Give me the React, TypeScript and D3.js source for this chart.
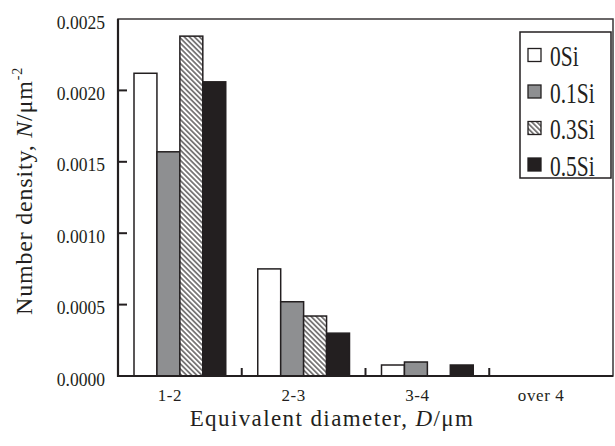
import React, { Component } from "react";
import * as d3 from "d3";

const categories = ["1-2", "2-3", "3-4", "over 4"];
const seriesNames = ["0Si", "0.1Si", "0.3Si", "0.5Si"];
const si0 = [0.00212, 0.00075, 0.000077, 0];
const si01 = [0.00157, 0.00052, 0.000098, 0];
const si03 = [0.00238, 0.00042, 0, 0];
const si05 = [0.00206, 0.0003, 0.000077, 0];
const yTicks = [0, 0.0005, 0.001, 0.0015, 0.002, 0.0025];

const FONT = "Liberation Serif, Times New Roman, serif";
const INK = "#231f20";

class App extends Component {
  graph = React.createRef<SVGSVGElement>();

  componentDidMount() {
    this.drawGraph();
  }

  drawGraph = () => {
    const svg = d3.select(this.graph.current);
    svg.selectAll("*").remove();

    const margin = { top: 19, right: 2, bottom: 70, left: 118 };
    const width = 615 - margin.left - margin.right;
    const height = 446 - margin.top - margin.bottom;
    const seriesValues = [si0, si01, si03, si05];
    const fills = ["#ffffff", "#8e8f91", "url(#hatch)", INK];

    // hatch for 0.3Si
    const pat = svg
      .append("defs")
      .append("pattern")
      .attr("id", "hatch")
      .attr("patternUnits", "userSpaceOnUse")
      .attr("width", 3.6)
      .attr("height", 3.6)
      .attr("patternTransform", "rotate(-45)");
    pat.append("rect").attr("width", 3.6).attr("height", 3.6).attr("fill", "#fff");
    pat
      .append("line")
      .attr("x1", 1.8)
      .attr("x2", 1.8)
      .attr("y1", 0)
      .attr("y2", 3.6)
      .attr("stroke", INK)
      .attr("stroke-width", 1.1);

    const g = svg
      .append("g")
      .attr("transform", "translate(" + margin.left + "," + margin.top + ")");

    const x0 = d3.scaleBand().domain(categories).range([0, width]).padding(0);
    const x1 = d3
      .scaleBand()
      .domain(seriesNames)
      .range([16, x0.bandwidth() - 16])
      .padding(0);
    const y = d3.scaleLinear().domain([0, 0.0025]).range([height, 0]);

    const cells = categories.flatMap((c, i) =>
      seriesNames.map((s, j) => ({ c, s, j, v: seriesValues[j][i] }))
    );

    g.selectAll("rect.bar")
      .data(cells.filter((d) => d.v > 0))
      .enter()
      .append("rect")
      .attr("class", "bar")
      .attr("x", (d) => x0(d.c)! + x1(d.s)!)
      .attr("y", (d) => y(d.v))
      .attr("width", x1.bandwidth())
      .attr("height", (d) => height - y(d.v))
      .attr("fill", (d) => fills[d.j])
      .attr("stroke", INK)
      .attr("stroke-width", 1.5);

    // y ticks, pointing inward
    g.selectAll("line.ytick")
      .data(yTicks.slice(1, -1))
      .enter()
      .append("line")
      .attr("x1", 0)
      .attr("x2", 9)
      .attr("y1", (d) => y(d))
      .attr("y2", (d) => y(d))
      .attr("stroke", INK)
      .attr("stroke-width", 2);

    g.selectAll("text.ylab")
      .data(yTicks)
      .enter()
      .append("text")
      .attr("transform", (d) => "translate(-13," + (y(d) + 9.5) + ") scale(0.9,1)")
      .attr("text-anchor", "end")
      .attr("font-family", FONT)
      .attr("font-size", 19.5)
      .attr("fill", INK)
      .text((d) => d3.format(".4f")(d));

    // x ticks at category boundaries, pointing up
    g.selectAll("line.xtick")
      .data(categories.slice(1))
      .enter()
      .append("line")
      .attr("x1", (d) => x0(d)!)
      .attr("x2", (d) => x0(d)!)
      .attr("y1", height)
      .attr("y2", height - 8)
      .attr("stroke", INK)
      .attr("stroke-width", 2);

    g.selectAll("text.xlab")
      .data(categories)
      .enter()
      .append("text")
      .attr("x", (d) => x0(d)! + x0.bandwidth() / 2 - 10)
      .attr("y", height + 25)
      .attr("text-anchor", "middle")
      .attr("font-family", FONT)
      .attr("font-size", 17)
      .attr("letter-spacing", 0.6)
      .attr("fill", INK)
      .text((d) => d);

    // frame
    g.append("rect")
      .attr("width", width)
      .attr("height", height)
      .attr("fill", "none")
      .attr("stroke", "#3a3637")
      .attr("stroke-width", 1.5);
    g.append("path")
      .attr("d", "M0,0V" + height + "H" + width)
      .attr("fill", "none")
      .attr("stroke", INK)
      .attr("stroke-width", 2.2);

    // legend
    const lg = svg.append("g").attr("transform", "translate(520,32)");
    lg.append("rect")
      .attr("width", 91)
      .attr("height", 146)
      .attr("fill", "#fff")
      .attr("stroke", INK)
      .attr("stroke-width", 1.5);
    const rows = lg
      .selectAll("g.row")
      .data(seriesNames)
      .enter()
      .append("g")
      .attr("transform", (d, i) => "translate(0," + (23 + i * 36.5) + ")");
    rows
      .append("rect")
      .attr("x", 8)
      .attr("y", -6.5)
      .attr("width", 13)
      .attr("height", 13)
      .attr("fill", (d, i) => fills[i])
      .attr("stroke", INK)
      .attr("stroke-width", 1.3);
    rows
      .append("text")
      .attr("transform", "translate(30,11) scale(0.74,1)")
      .attr("font-family", FONT)
      .attr("font-size", 29)
      .attr("fill", INK)
      .text((d) => d);

    // axis titles
    const xt = svg
      .append("text")
      .attr("x", 332)
      .attr("y", 426)
      .attr("text-anchor", "middle")
      .attr("font-family", FONT)
      .attr("font-size", 23)
      .attr("letter-spacing", 1.4)
      .attr("fill", INK);
    xt.append("tspan").text("Equivalent diameter, ");
    xt.append("tspan").attr("font-style", "italic").text("D");
    xt.append("tspan").text("/μm");

    const yt = svg
      .append("text")
      .attr("transform", "translate(32,191) rotate(-90)")
      .attr("text-anchor", "middle")
      .attr("font-family", FONT)
      .attr("font-size", 24)
      .attr("letter-spacing", 0.8)
      .attr("fill", INK);
    yt.append("tspan").text("Number density, ");
    yt.append("tspan").attr("font-style", "italic").text("N");
    yt.append("tspan").text("/μm");
    yt.append("tspan").attr("dy", -10).attr("font-size", 14).text("-2");
  };

  render() {
    return (
      <svg
        ref={this.graph}
        width={615}
        height={446}
        style={{ position: "absolute", left: 0, top: 0, background: "#fff" }}
      />
    );
  }
}

export default App;
